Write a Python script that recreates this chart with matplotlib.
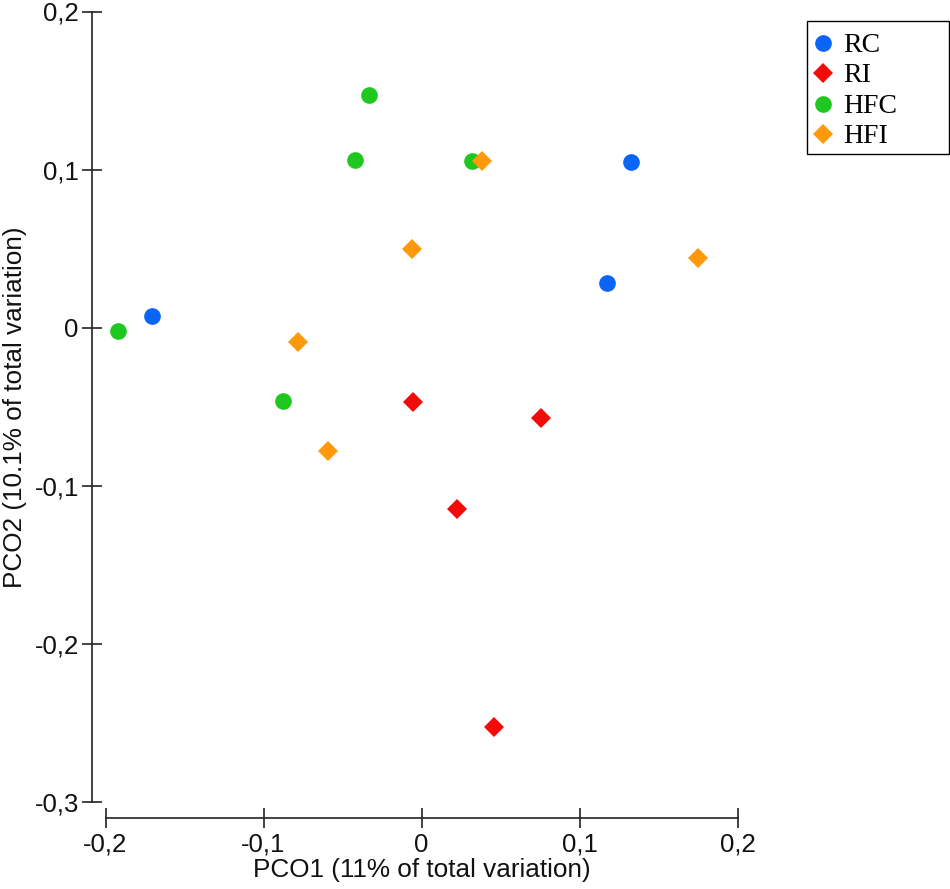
import matplotlib
matplotlib.use("Agg")
import matplotlib.pyplot as plt
from matplotlib.patches import Rectangle

# Data (PCO1, PCO2)
groups = ["RC", "RI", "HFC", "HFI"]
rc_x = [-0.1706, 0.1177, 0.1329]
rc_y = [0.0074, 0.0280, 0.1047]
ri_x = [-0.0056, 0.0759, 0.0222, 0.0460]
ri_y = [-0.0469, -0.0574, -0.1147, -0.2528]
hfc_x = [-0.1920, -0.0874, -0.0421, -0.0330, 0.0320]
hfc_y = [-0.0019, -0.0462, 0.1060, 0.1471, 0.1054]
hfi_x = [-0.0782, -0.0590, -0.0062, 0.0381, 0.1750]
hfi_y = [-0.0090, -0.0779, 0.0498, 0.1056, 0.0441]

x_ticks = [-0.2, -0.1, 0.0, 0.1, 0.2]
x_ticklabels = ["-0,2", "-0,1", "0", "0,1", "0,2"]
y_ticks = [-0.3, -0.2, -0.1, 0.0, 0.1, 0.2]
y_ticklabels = ["-0,3", "-0,2", "-0,1", "0", "0,1", "0,2"]

W, H = 950, 889
fig = plt.figure(figsize=(W / 100, H / 100), dpi=100)
left, right, top, bottom = 105.5, 737.5, 11.5, 802.0
ax = fig.add_axes([left / W, 1 - bottom / H, (right - left) / W, (bottom - top) / H])

series = [
    (rc_x, rc_y, "o", "#0a64f5", 12.0, "RC"),
    (ri_x, ri_y, "D", "#f50a0a", 10.0, "RI"),
    (hfc_x, hfc_y, "o", "#1ec81e", 12.0, "HFC"),
    (hfi_x, hfi_y, "D", "#ff980a", 10.0, "HFI"),
]
handles = []
for xs, ys, mk, col, ms, lab in series:
    h, = ax.plot(xs, ys, linestyle="none", marker=mk, color=col,
                 markersize=ms, markeredgewidth=0, label=lab, clip_on=False)
    handles.append(h)

ax.set_xlim(-0.2, 0.2)
ax.set_ylim(-0.3, 0.2)
ax.set_xticks(x_ticks)
ax.set_xticklabels(x_ticklabels)
ax.set_yticks(y_ticks)
ax.set_yticklabels(y_ticklabels)

for s in ["top", "right"]:
    ax.spines[s].set_visible(False)
ax.spines["left"].set_position(("outward", 13.5 * 0.72))
ax.spines["bottom"].set_position(("outward", 16 * 0.72))
for s in ["left", "bottom"]:
    ax.spines[s].set_color("#222222")
    ax.spines[s].set_linewidth(1.2)

tickfont = "Liberation Sans"
ax.tick_params(axis="both", direction="inout", length=15, width=1.2,
               color="#222222", labelsize=18.5, pad=2)
ax.tick_params(axis="x", pad=3)
for lbl in ax.get_xticklabels() + ax.get_yticklabels():
    lbl.set_fontfamily(tickfont)
    lbl.set_color("#111111")

ax.set_xlabel("PCO1 (11% of total variation)", fontfamily=tickfont,
              fontsize=18.8, color="#111111", labelpad=1)
ax.set_ylabel("PCO2 (10.1% of total variation)", fontfamily=tickfont,
              fontsize=18.8, color="#111111", labelpad=5.5)

# legend entries (no frame) + frame drawn at the reference box position
leg = fig.legend(handles=handles, labels=groups, loc="upper left",
                 bbox_to_anchor=(807 / W, 1 - 21 / H), borderaxespad=0,
                 frameon=False,
                 prop={"family": "Liberation Serif", "size": 20},
                 handlelength=0.31, handleheight=0.5, handletextpad=0.56,
                 labelspacing=0.2, borderpad=0.42, markerscale=1.0)
fig.add_artist(Rectangle((807 / W, 1 - 154 / H), 142 / W, 133 / H,
                         transform=fig.transFigure, fill=False,
                         edgecolor="black", linewidth=1.0))

fig.savefig("out.png", dpi=100)
